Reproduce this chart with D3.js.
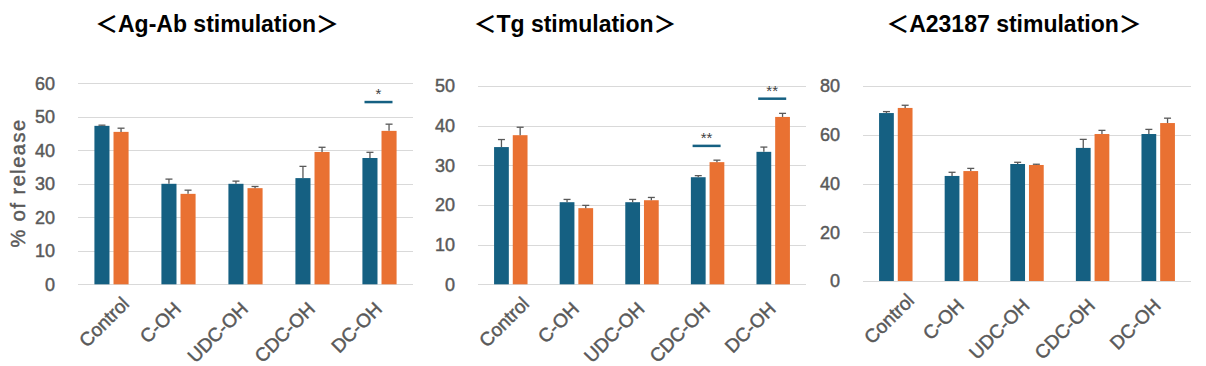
<!DOCTYPE html>
<html lang="en">
<head>
<meta charset="utf-8">
<title>Release by stimulation</title>
<script src="https://cdn.jsdelivr.net/npm/d3@7"></script>
<style>
    body {
        margin: 0;
        padding: 0;
        background: #ffffff;
        font-family: "Liberation Sans", Arial, sans-serif;
    }
    .grid line { stroke: #d9d9d9; stroke-width: 1; shape-rendering: crispEdges; }
    .tick-label { font-size: 18px; fill: #595959; stroke: #595959; stroke-width: 0.45px; }
    .x-label { font-size: 19px; fill: #595959; stroke: #595959; stroke-width: 0.45px; }
    .panel-title { font-size: 23px; font-weight: bold; fill: #000; text-anchor: middle;
                   font-family: "Liberation Sans", "Noto Sans CJK JP", sans-serif; }
    .y-title { font-size: 20px; fill: #595959; stroke: #595959; stroke-width: 0.45px;
               letter-spacing: 1.5px; text-anchor: middle; }
    .err line { stroke: #595959; stroke-width: 1.3; }
    .sig-line { stroke: #156082; stroke-width: 2.5; }
    .sig-star { font-size: 15px; fill: #404040; text-anchor: middle; }
</style>
</head>
<body>
<svg id="chart" width="1206" height="366"></svg>
<script>
// categories and series
var categories = ["Control", "C-OH", "UDC-OH", "CDC-OH", "DC-OH"];
var seriesKeys = ["blue", "orange"];
var titles = ["＜Ag-Ab stimulation＞", "＜Tg stimulation＞", "＜A23187 stimulation＞"];

// Ag-Ab stimulation
var agabBlue = [47.3, 30.0, 30.0, 31.7, 37.7];
var agabBlueErr = [0.2, 1.4, 0.8, 3.5, 1.7];
var agabOrange = [45.5, 27.0, 28.7, 39.5, 45.8];
var agabOrangeErr = [1.1, 1.1, 0.5, 1.4, 2.0];
var agabTicks = [0, 10, 20, 30, 40, 50, 60];
var agabSig = [{ cat: "DC-OH", y: 54.4, label: "*" }];

// Tg stimulation
var tgBlue = [34.6, 20.7, 20.7, 27.0, 33.4];
var tgBlueErr = [1.9, 0.7, 0.7, 0.4, 1.2];
var tgOrange = [37.6, 19.2, 21.2, 30.8, 42.2];
var tgOrangeErr = [2.0, 0.7, 0.7, 0.5, 0.9];
var tgTicks = [0, 10, 20, 30, 40, 50];
var tgSig = [{ cat: "CDC-OH", y: 34.9, label: "**" }, { cat: "DC-OH", y: 46.8, label: "**" }];

// A23187 stimulation
var caBlue = [68.9, 43.1, 48.0, 54.6, 60.3];
var caBlueErr = [0.6, 1.5, 0.7, 3.5, 1.9];
var caOrange = [71.0, 45.1, 47.6, 60.3, 64.8];
var caOrangeErr = [1.1, 1.1, 0.3, 1.5, 2.0];
var caTicks = [0, 20, 40, 60, 80];
var caSig = [];

var colors = { blue: "#156082", orange: "#E97132" };

var svg = d3.select("#chart");

function drawPanel(p) {
    var rows = categories.map(function (c, i) {
        return {
            cat: c,
            vals: [
                { key: "blue", v: p.blue[i], e: p.blueErr[i] },
                { key: "orange", v: p.orange[i], e: p.orangeErr[i] }
            ]
        };
    });

    var x0 = d3.scaleBand().domain(categories).range([p.left, p.right]);
    var bw = x0.bandwidth();
    var groupW = bw * 0.51;
    var x1 = d3.scaleBand().domain(seriesKeys)
        .range([(bw - groupW) / 2, (bw + groupW) / 2])
        .paddingInner(4 / 19);

    var y = d3.scaleLinear().domain([0, d3.max(p.ticks)]).range([p.bottom, p.top]);

    var g = svg.append("g");

    // gridlines
    g.append("g").attr("class", "grid")
        .selectAll("line").data(p.ticks).enter().append("line")
        .attr("x1", p.left).attr("x2", p.right)
        .attr("y1", function (d) { return Math.round(y(d)) + 0.5; })
        .attr("y2", function (d) { return Math.round(y(d)) + 0.5; });

    // y tick labels
    g.selectAll(".tick-label").data(p.ticks).enter().append("text")
        .attr("class", "tick-label")
        .attr("x", p.left - 23)
        .attr("y", function (d) { return y(d); })
        .attr("dy", "0.35em")
        .attr("text-anchor", "end")
        .text(function (d) { return d; });

    // bars
    var grp = g.selectAll(".grp").data(rows).enter().append("g")
        .attr("transform", function (d) { return "translate(" + x0(d.cat) + ",0)"; });

    grp.selectAll("rect").data(function (d) { return d.vals; }).enter().append("rect")
        .attr("x", function (d) { return x1(d.key); })
        .attr("width", x1.bandwidth())
        .attr("y", function (d) { return y(d.v); })
        .attr("height", function (d) { return y(0) - y(d.v); })
        .attr("fill", function (d) { return colors[d.key]; });

    // error bars (upper only)
    var err = grp.selectAll(".err").data(function (d) { return d.vals; }).enter().append("g")
        .attr("class", "err")
        .attr("transform", function (d) { return "translate(" + (x1(d.key) + x1.bandwidth() / 2) + ",0)"; });
    err.append("line")
        .attr("x1", 0).attr("x2", 0)
        .attr("y1", function (d) { return y(d.v); })
        .attr("y2", function (d) { return y(d.v + d.e); });
    err.append("line")
        .attr("x1", -3.5).attr("x2", 3.5)
        .attr("y1", function (d) { return y(d.v + d.e); })
        .attr("y2", function (d) { return y(d.v + d.e); });

    // x labels, rotated
    var labels = g.selectAll(".x-label").data(categories).enter().append("text")
        .attr("class", "x-label")
        .attr("text-anchor", "end")
        .attr("dy", "0.35em")
        .attr("transform", function (d) {
            return "translate(" + (x0(d) + bw / 2 - 1) + "," + (p.bottom + 21) + ") rotate(-45)";
        })
        .text(function (d) { return d; });

    // keep labels inside the chart's left edge, like the spreadsheet does
    labels.each(function (d) {
        var box = this.getBoundingClientRect();
        var minLeft = p.left - 3;
        if (box.left < minLeft) {
            var sh = minLeft - box.left;
            d3.select(this).attr("transform", "translate(" + (x0(d) + bw / 2 - 1 + sh) + "," + (p.bottom + 16) + ") rotate(-45)");
        }
    });

    // significance markers
    p.sig.forEach(function (s) {
        var cx = x0(s.cat) + bw / 2;
        g.append("line").attr("class", "sig-line")
            .attr("x1", cx - 15).attr("x2", cx + 13)
            .attr("y1", y(s.y)).attr("y2", y(s.y));
        g.append("text").attr("class", "sig-star")
            .attr("x", cx - 1)
            .attr("y", y(s.y) - 3)
            .text(s.label);
    });

    // title
    g.append("text").attr("class", "panel-title")
        .attr("x", p.titleX).attr("y", 32)
        .text(p.title);
}

drawPanel({ title: titles[0], titleX: 217, left: 78, right: 413, top: 83.3, bottom: 284.3,
    blue: agabBlue, blueErr: agabBlueErr, orange: agabOrange, orangeErr: agabOrangeErr,
    ticks: agabTicks, sig: agabSig });
drawPanel({ title: titles[1], titleX: 575, left: 478, right: 806, top: 86, bottom: 284.3,
    blue: tgBlue, blueErr: tgBlueErr, orange: tgOrange, orangeErr: tgOrangeErr,
    ticks: tgTicks, sig: tgSig });
drawPanel({ title: titles[2], titleX: 1014, left: 863, right: 1191, top: 86, bottom: 281,
    blue: caBlue, blueErr: caBlueErr, orange: caOrange, orangeErr: caOrangeErr,
    ticks: caTicks, sig: caSig });

// y-axis title, first panel only
svg.append("text")
    .attr("class", "y-title")
    .attr("transform", "translate(25,183) rotate(-90)")
    .text("% of release");
</script>
</body>
</html>
